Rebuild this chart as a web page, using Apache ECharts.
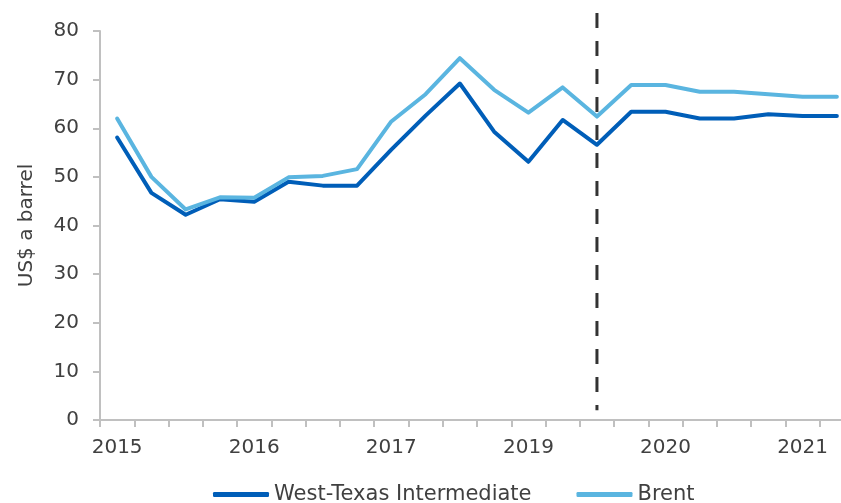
<!DOCTYPE html>
<html>
<head>
<meta charset="utf-8">
<script src="https://cdn.jsdelivr.net/npm/echarts@6/dist/echarts.min.js"></script>
<style>
  html, body { margin: 0; padding: 0; background: #fff; }
  #chart { width: 841px; height: 503px; }
</style>
</head>
<body>
<div id="chart"></div>
<script>
// quarters, 2015 Q1 onwards
var categories = [
  '2015Q1', '2015Q2', '2015Q3', '2015Q4',
  '2016Q1', '2016Q2', '2016Q3', '2016Q4',
  '2017Q1', '2017Q2', '2017Q3', '2017Q4',
  '2018Q1', '2018Q2', '2018Q3', '2018Q4',
  '2019Q1', '2019Q2', '2019Q3', '2019Q4',
  '2020Q1', '2020Q2'
]
// labels as printed on the original axis (one every 4 quarters)
var yearLabels = ['2015', '2016', '2017', '2019', '2020', '2021']

var wti = [58.1, 46.7, 42.2, 45.4, 44.9, 49.0, 48.2, 48.2, 55.6, 62.6, 69.2,
  59.3, 53.1, 61.7, 56.6, 63.4, 63.4, 62.0, 62.0, 62.9, 62.5, 62.5]
var brent = [62.0, 50.0, 43.3, 45.8, 45.7, 49.9, 50.2, 51.6, 61.4, 67.0, 74.4,
  67.9, 63.2, 68.4, 62.4, 68.9, 68.9, 67.5, 67.5, 67.0, 66.5, 66.5]

// forecast divider: [category index, top value, bottom value]
var divider = [[14, 83.7, 2]]

var textColor = '#404040'
var font = 'DejaVu Sans, Arial, sans-serif'

var myChart = echarts.init(document.getElementById('chart'))
myChart.setOption({
  animation: false,
  textStyle: { fontFamily: font },
  // plot runs a little past the right edge, like the cropped original
  grid: { left: 100, width: 754, top: 31, bottom: 83, containLabel: false, outerBoundsMode: 'none' },
  legend: {
    data: ['West-Texas Intermediate', 'Brent'],
    left: 213,
    top: 484,
    padding: 0,
    icon: 'roundRect',
    itemWidth: 56,
    itemHeight: 5,
    itemGap: 45,
    textStyle: { color: textColor, fontSize: 21, fontFamily: font }
  },
  xAxis: {
    type: 'category',
    data: categories,
    boundaryGap: true,
    axisLine: { lineStyle: { color: '#c0c0c0', width: 2 } },
    axisTick: { show: true, interval: 0, length: 7, lineStyle: { color: '#c0c0c0', width: 2 } },
    axisLabel: {
      interval: 0,
      margin: 18,
      color: textColor,
      fontSize: 20,
      formatter: function (v, i) {
        return i % 4 === 0 ? yearLabels[i / 4] : ''
      }
    }
  },
  yAxis: {
    type: 'value',
    min: 0,
    max: 80,
    interval: 10,
    name: 'US$ a barrel',
    nameLocation: 'middle',
    nameGap: 63,
    nameRotate: 90,
    nameTextStyle: { color: textColor, fontSize: 20 },
    axisLine: { show: true, lineStyle: { color: '#c0c0c0', width: 2 } },
    axisTick: { show: true, length: 7, lineStyle: { color: '#c0c0c0', width: 2 } },
    axisLabel: { color: textColor, fontSize: 20, margin: 21 },
    splitLine: { show: false }
  },
  series: [
    {
      name: 'West-Texas Intermediate',
      type: 'line',
      data: wti,
      symbol: 'none',
      color: '#005eb8',
      lineStyle: { width: 4, cap: 'round', join: 'round' }
    },
    {
      name: 'Brent',
      type: 'line',
      data: brent,
      symbol: 'none',
      color: '#5ab5e0',
      lineStyle: { width: 4, cap: 'round', join: 'round' }
    },
    {
      // dashed vertical divider, it pokes above the top of the axis
      type: 'custom',
      silent: true,
      clip: false,
      data: divider,
      encode: { x: 0, y: 1 },
      renderItem: function (params, api) {
        var top = api.coord([api.value(0), api.value(1)])
        var bottom = api.coord([api.value(0), api.value(2)])
        return {
          type: 'line',
          shape: { x1: top[0], y1: top[1], x2: bottom[0], y2: bottom[1] },
          style: { stroke: '#333333', lineWidth: 3, lineDash: [15, 13] }
        }
      }
    }
  ]
})
</script>
</body>
</html>
